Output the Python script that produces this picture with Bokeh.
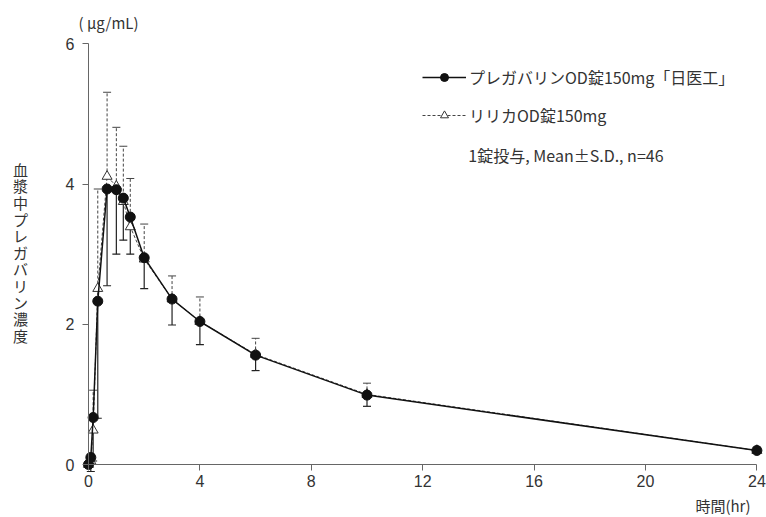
from bokeh.plotting import figure
from bokeh.models import (Range1d, FixedTicker, Whisker, TeeHead, ColumnDataSource,
                          Legend, LegendItem, Label)
from bokeh.embed import file_html
from bokeh.resources import INLINE

# ---- data ----
time_hr = [0, 0.083, 0.167, 0.333, 0.667, 1, 1.25, 1.5, 2, 3, 4, 6, 10, 24]
odt_mean = [0, 0.10, 0.67, 2.33, 3.93, 3.92, 3.80, 3.53, 2.95, 2.36, 2.04, 1.56, 0.99, 0.20]
odt_sd = [0.02, 0.20, 0.62, 1.67, 1.38, 0.92, 0.60, 0.53, 0.44, 0.37, 0.33, 0.22, 0.16, 0.04]
lyr_mean = [0, 0.05, 0.49, 2.51, 4.11, 3.97, 3.75, 3.39, 2.93, 2.36, 2.04, 1.57, 1.00, 0.20]
lyr_sd = [0.02, 0.10, 0.57, 1.42, 1.20, 0.84, 0.79, 0.69, 0.50, 0.33, 0.35, 0.23, 0.16, 0.05]

x_ticks = [0, 4, 8, 12, 16, 20, 24]
y_ticks = [0, 2, 4, 6]
series_names = ["プレガバリンOD錠150mg「日医工」", "リリカOD錠150mg"]
note_text = "1錠投与, Mean±S.D., n=46"
y_title = "血漿中プレガバリン濃度"
y_unit = "( μg/mL)"
x_title = "時間(hr)"

CJK = "Noto Sans CJK JP"
TXT = "#333333"
AX = "#666666"

src = ColumnDataSource(dict(
    t=time_hr,
    odt=odt_mean,
    odt_lo=[m - s for m, s in zip(odt_mean, odt_sd)],
    lyr=lyr_mean,
    lyr_hi=[m + s for m, s in zip(lyr_mean, lyr_sd)],
))

# frame covers the whole canvas; axes are fixed at x=0 / y=0
p = figure(width=766, height=517, output_backend="svg", toolbar_location=None,
           x_range=Range1d(-3.160, 24.345), y_range=Range1d(-0.756, 6.619),
           min_border_left=0, min_border_right=0, min_border_top=0, min_border_bottom=0)
p.grid.visible = False
p.outline_line_color = None
p.background_fill_color = "white"
p.border_fill_color = "white"

for ax in (p.xaxis[0], p.yaxis[0]):
    ax.axis_line_color = AX
    ax.major_tick_line_color = AX
    ax.minor_tick_line_color = None
    ax.major_tick_out = 6
    ax.major_tick_in = 0
    ax.major_label_text_font = "Liberation Sans"
    ax.major_label_text_font_size = "16px"
    ax.major_label_text_color = TXT
p.xaxis.ticker = FixedTicker(ticks=x_ticks)
p.yaxis.ticker = FixedTicker(ticks=y_ticks)
p.xaxis.fixed_location = 0
p.yaxis.fixed_location = 0
p.xaxis.bounds = (0, 24)
p.yaxis.bounds = (0, 6)
p.yaxis.major_label_standoff = 8
p.xaxis.major_label_standoff = 4

# error bars: reference (dashed, upward), test (solid, downward)
w_lyr = Whisker(source=src, base="t", lower="lyr", upper="lyr_hi",
                line_color="#444444", line_dash="3 2", line_width=1,
                upper_head=TeeHead(size=8, line_color="#444444", line_width=1),
                lower_head=None, level="underlay")
w_odt = Whisker(source=src, base="t", lower="odt_lo", upper="odt",
                line_color="#222222", line_width=1.2,
                lower_head=TeeHead(size=8, line_color="#222222", line_width=1.2),
                upper_head=None, level="underlay")
p.add_layout(w_lyr)
p.add_layout(w_odt)

r_lyr_line = p.line("t", "lyr", source=src, line_color="#444444", line_dash="3 2", line_width=1)
r_lyr_pts = p.scatter("t", "lyr", source=src, marker="triangle", size=10,
                      fill_color="white", line_color="#333333", line_width=1)
r_odt_line = p.line("t", "odt", source=src, line_color="#111111", line_width=1.5)
r_odt_pts = p.scatter("t", "odt", source=src, marker="circle", size=10,
                      fill_color="#111111", line_color="#111111")

legend = Legend(items=[
    LegendItem(label=series_names[0], renderers=[r_odt_line, r_odt_pts]),
    LegendItem(label=series_names[1], renderers=[r_lyr_line, r_lyr_pts]),
], location=(422, 390), glyph_width=44, glyph_height=20, label_height=20,
    label_standoff=3, spacing=14, padding=0, margin=0,
    border_line_color=None, background_fill_alpha=0,
    label_text_font=CJK, label_text_font_size="16px", label_text_color=TXT)
p.add_layout(legend)

p.add_layout(Label(x=13.64, y=4.42, text=note_text, text_font=CJK, text_font_size="16px",
                   text_color=TXT, text_baseline="middle", text_align="left"))
p.add_layout(Label(x=-2.44, y=4.36, text="\n".join(y_title), text_font=CJK,
                   text_font_size="15px", text_color=TXT, text_baseline="top",
                   text_align="center", text_line_height=0.79))
p.add_layout(Label(x=-0.36, y=6.31, text=y_unit, text_font=CJK, text_font_size="15px",
                   text_color=TXT, text_baseline="middle", text_align="left"))
p.add_layout(Label(x=23.77, y=-0.58, text=x_title, text_font=CJK, text_font_size="15px",
                   text_color=TXT, text_baseline="middle", text_align="right"))

open("out.html", "w").write(file_html(p, INLINE))
